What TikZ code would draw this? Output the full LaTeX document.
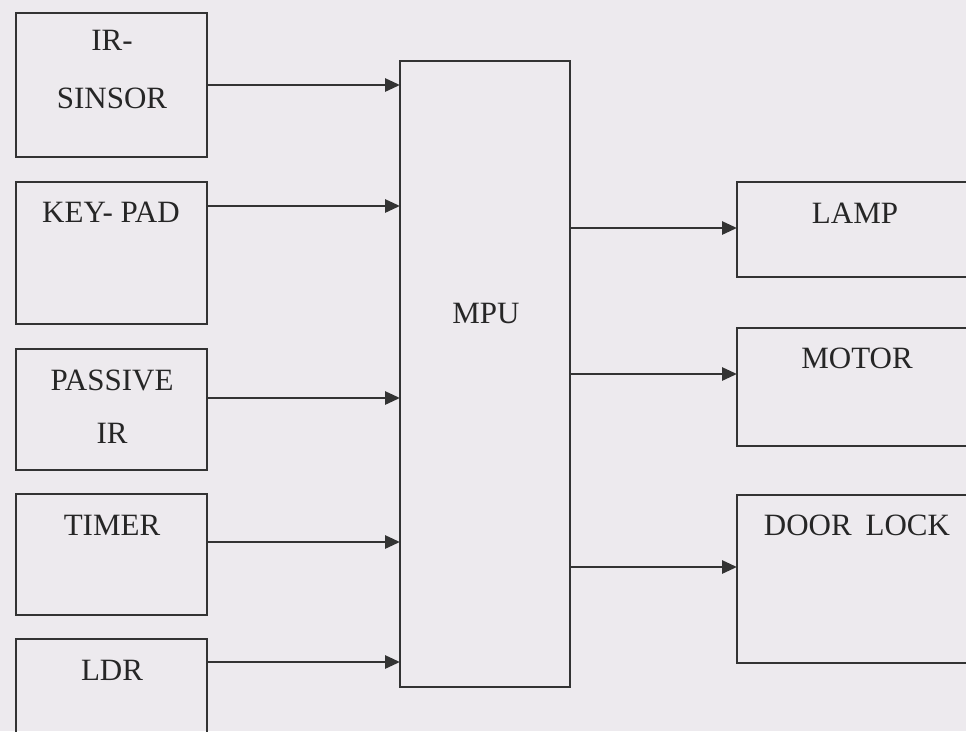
\documentclass[tikz,border=0pt]{standalone}
\usepackage{fontspec}
\setmainfont{Liberation Serif}
\usetikzlibrary{arrows.meta}
\definecolor{bg}{HTML}{EDEAEE}
\definecolor{ink}{HTML}{333333}
\definecolor{txt}{HTML}{262626}
\begin{document}
\begin{tikzpicture}[x=1pt,y=-1pt,
  box/.style={draw=ink, line width=2.3pt, inner sep=0pt, outer sep=0pt, anchor=north west},
  lbl/.style={anchor=base, inner sep=0pt, text=txt, font=\fontsize{31}{31}\selectfont},
  arr/.style={draw=ink, line width=2.8pt, -{Triangle[length=15pt,width=13pt]}}]
\fill[bg] (0,0) rectangle (966,731);
\useasboundingbox (0,0) rectangle (966,731);
\clip (0,0) rectangle (966,731);
% input boxes
\node[box, minimum width=191pt, minimum height=144pt] (ir)  at (16,13)  {};
\node[box, minimum width=191pt, minimum height=142pt] (key) at (16,182) {};
\node[box, minimum width=191pt, minimum height=121pt] (pir) at (16,349) {};
\node[box, minimum width=191pt, minimum height=121pt] (tim) at (16,494) {};
\node[box, minimum width=191pt, minimum height=150pt] (ldr) at (16,639) {};
% MPU
\node[box, minimum width=170pt, minimum height=626pt] (mpu) at (400,61) {};
% output boxes
\node[box, minimum width=250pt, minimum height=95pt]  (lamp)  at (737,182) {};
\node[box, minimum width=250pt, minimum height=118pt] (motor) at (737,328) {};
\node[box, minimum width=250pt, minimum height=168pt] (door)  at (737,495) {};
% labels
\node[lbl] (tir1) at (112,50)  {IR-};
\node[lbl] (tir2) at (112,108) {SINSOR};
\node[lbl] (tkey) at (111,222) {KEY- PAD};
\node[lbl] (tpi1) at (112,390) {PASSIVE};
\node[lbl] (tpi2) at (112,443) {IR};
\node[lbl] (ttim) at (112,535) {TIMER};
\node[lbl] (tldr) at (112,680) {LDR};
\node[lbl] (tmpu) at (486,323) {MPU};
\node[lbl] (tlamp) at (855,223) {LAMP};
\node[lbl] (tmot) at (857,368) {MOTOR};
\node[lbl] (tdoor) at (857,535) {DOOR\hspace{0.45em}LOCK};
% arrow heights
\coordinate (y1) at (0,85);
\coordinate (y2) at (0,206);
\coordinate (y3) at (0,398);
\coordinate (y4) at (0,542);
\coordinate (y5) at (0,662);
\coordinate (z1) at (0,228);
\coordinate (z2) at (0,374);
\coordinate (z3) at (0,567);
\draw[arr] (ir.east |- y1)  -- (mpu.west |- y1);
\draw[arr] (key.east |- y2) -- (mpu.west |- y2);
\draw[arr] (pir.east |- y3) -- (mpu.west |- y3);
\draw[arr] (tim.east |- y4) -- (mpu.west |- y4);
\draw[arr] (ldr.east |- y5) -- (mpu.west |- y5);
\draw[arr] (mpu.east |- z1) -- (lamp.west |- z1);
\draw[arr] (mpu.east |- z2) -- (motor.west |- z2);
\draw[arr] (mpu.east |- z3) -- (door.west |- z3);
\end{tikzpicture}
\end{document}
